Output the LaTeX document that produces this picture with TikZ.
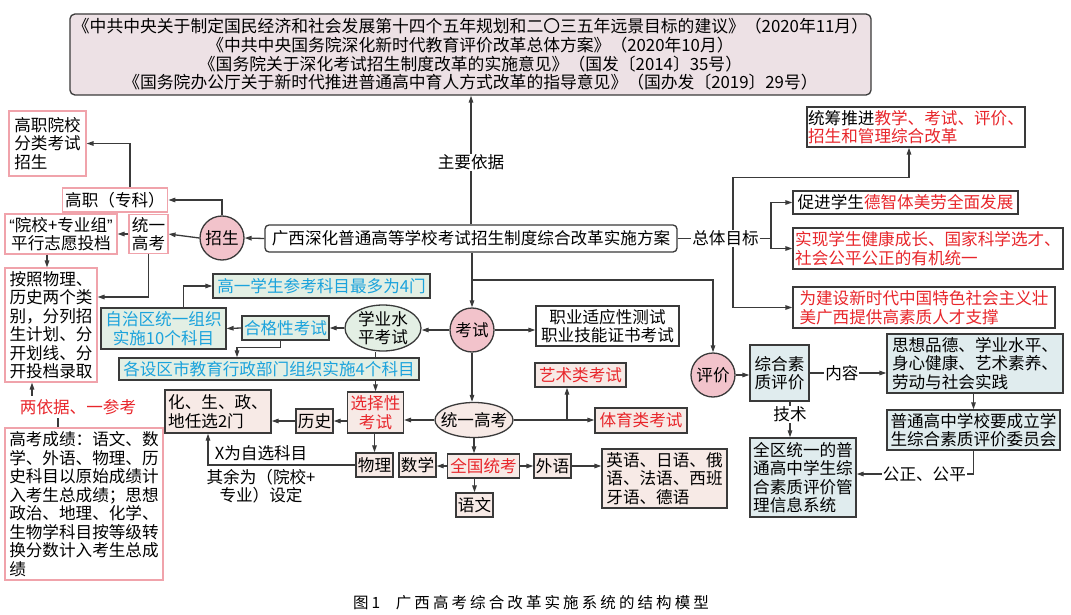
\documentclass[tikz,border=0pt]{standalone}
\usepackage{fontspec}
\setmainfont{Noto Sans CJK SC}
\newfontfamily\capfont[LetterSpace=20]{Noto Sans CJK SC}
\newfontfamily\latf{Liberation Sans}
\usetikzlibrary{arrows.meta,calc,shapes.geometric}
\definecolor{lineC}{HTML}{3A3A3A}
\definecolor{redT}{HTML}{E8262B}
\definecolor{cyanT}{HTML}{1BA3DC}
\definecolor{pinkB}{HTML}{F0A3AB}
\definecolor{pinkC}{HTML}{F2C3CB}
\definecolor{pinkF}{HTML}{F7EAE6}
\definecolor{greenF}{HTML}{E3EFE4}
\definecolor{blueF}{HTML}{E0ECEE}
\definecolor{topF}{HTML}{EDE1E5}
\newcommand\fz{\fontsize{16.6}{18.5}\selectfont}
\begin{document}
\begin{tikzpicture}[x=1pt,y=-1pt,
 every node/.style={font=\fz, text=black},
 dbox/.style={draw=lineC, line width=1.3pt, fill=white, inner sep=3pt, rectangle},
 pbox/.style={draw=pinkB, line width=1.1pt, fill=white, inner sep=3pt, rectangle},
 gbox/.style={dbox, fill=greenF, text=cyanT},
 fbox/.style={dbox, fill=pinkF},
 bbox/.style={dbox, fill=blueF},
 circ/.style={circle, draw=lineC, line width=1.3pt, fill=pinkC, minimum size=44pt, inner sep=0pt},
 ell/.style={ellipse, draw=lineC, line width=1.3pt, inner sep=0pt},
 lbl/.style={fill=white, inner sep=1pt},
 arr/.style={draw=lineC, line width=1.3pt, -{Triangle[length=7pt,width=4.5pt]}},
 ln/.style={draw=lineC, line width=1.3pt},
 sz/.style 2 args={minimum width=#1pt, minimum height=#2pt},
]
\useasboundingbox (0,0) rectangle (1071,615);

% ---------- nodes ----------
\node[dbox, fill=topF, rounded corners=5pt, sz={795}{81}, align=center, font=\fontsize{16.8}{18.7}\selectfont] (top) at (470.5,54.5) {《中共中央关于制定国民经济和社会发展第十四个五年规划和二〇三五年远景目标的建议》（2020年11月）\\《中共中央国务院深化新时代教育评价改革总体方案》（2020年10月）\\《国务院关于深化考试招生制度改革的实施意见》（国发〔2014〕35号）\\《国务院办公厅关于新时代推进普通高中育人方式改革的指导意见》（国办发〔2019〕29号）};

\node[dbox, rounded corners=4pt, sz={412}{27}] (main) at (471,238.5) {广西深化普通高等学校考试招生制度综合改革实施方案};
\node[circ] (zs) at (222,238) {招生};
\node[pbox, sz={104}{24}] (gz) at (115,200) {高职（专科）};
\node[pbox, sz={77}{65}, align=left] (gzyx) at (47.5,143.5) {高职院校\\分类考试\\招生};
\node[pbox, sz={112}{38}, align=center] (yx) at (61,234) {{\latf “}院校+专业组{\latf ”}\\平行志愿投档};
\node[pbox, sz={39}{38}, align=center, inner xsep=2pt] (tk) at (148.5,234) {统一\\高考};
\node[pbox, sz={92}{114}, align=left] (az) at (51,325) {按照物理、\\历史两个类\\别，分列招\\生计划、分\\开划线、分\\开投档录取};
\node[text=redT] (lyj) at (78,407) {两依据、一参考};
\node[pbox, sz={158}{152}, align=left] (gkcj) at (84,504) {高考成绩：语文、数\\学、外语、物理、历\\史科目以原始成绩计\\入考生总成绩；思想\\政治、地理、化学、\\生物学科目按等级转\\换分数计入考生总成\\绩};

\node[gbox, sz={217}{24}] (gy) at (321.5,286) {高一学生参考科目最多为4门};
\node[gbox, sz={125}{41}, align=center] (zz) at (163.5,328.5) {自治区统一组织\\实施10个科目};
\node[gbox, sz={87}{24}, inner xsep=2pt] (hg) at (285.5,328) {合格性考试};
\node[ell, fill=greenF, minimum width=76pt, minimum height=46pt, inner ysep=-1.5pt, inner xsep=-1pt, align=center] (xy) at (383,328) {学业水\\平考试};
\node[gbox, sz={300}{22}] (gs) at (269,369) {各设区市教育行政部门组织实施4个科目};

\node[circ] (ks) at (472,330) {考试};
\node[dbox, sz={143}{40}, align=center] (zy) at (607.5,326) {职业适应性测试\\职业技能证书考试};
\node[circ] (pj) at (713,375) {评价};
\node[ell, fill=pinkF, minimum width=78pt, minimum height=35pt, inner xsep=-10pt, inner ysep=0pt] (tg) at (474,420) {统一高考};

\node[fbox, sz={91}{24}, text=redT] (ys) at (580.5,375) {艺术类考试};
\node[fbox, sz={92}{25}, text=redT] (ty) at (641,420.5) {体育类考试};
\node[fbox, sz={55}{41}, text=redT, align=center] (xz) at (375.5,412.5) {选择性\\考试};
\node[fbox, sz={37}{24}, inner xsep=1.5pt] (ls) at (314.5,421) {历史};
\node[fbox, sz={106}{43}, align=left] (hs) at (218,411.5) {化、生、政、\\地任选2门};
\node[fbox, sz={37}{24}, inner xsep=1.5pt] (wl) at (374.5,465) {物理};
\node[fbox, sz={37}{24}, inner xsep=1.5pt] (sx) at (417.5,465) {数学};
\node[fbox, sz={69}{24}, text=redT] (qg) at (483.5,466) {全国统考};
\node[fbox, sz={37}{24}, inner xsep=1.5pt] (wy) at (552.5,466) {外语};
\node[fbox, sz={125}{59}, align=left] (yy) at (664.5,478.5) {英语、日语、俄\\语、法语、西班\\牙语、德语};
\node[fbox, sz={37}{24}, inner xsep=1.5pt] (yw) at (474.5,505) {语文};

\node[dbox, sz={216}{40}, align=left, inner xsep=1pt] (tc) at (916,127) {统筹推进\textcolor{redT}{教学、考试、评价、}\\\textcolor{redT}{招生和管理综合改革}};
\node[lbl] (zt) at (725.5,238.5) {总体目标};
\node[dbox, sz={225}{23}] (cj) at (905.5,202.5) {促进学生\textcolor{redT}{德智体美劳全面发展}};
\node[dbox, sz={270}{41}, align=left, text=redT, inner xsep=2pt] (sxz) at (928,248.5) {实现学生健康成长、国家科学选才、\\社会公平公正的有机统一};
\node[dbox, sz={262}{41}, align=left, text=redT] (wj) at (924,307.5) {为建设新时代中国特色社会主义壮\\美广西提供高素质人才支撑};
\node[bbox, sz={59}{56}, align=center] (zh) at (779.5,373) {综合素\\质评价};
\node[bbox, sz={176}{59}, align=left] (sp) at (975,363.5) {思想品德、学业水平、\\身心健康、艺术素养、\\劳动与社会实践};
\node[bbox, sz={173}{40}, align=left, inner xsep=2pt] (pt) at (973.5,430) {普通高中学校要成立学\\生综合素质评价委员会};
\node[bbox, sz={106}{79}, align=left, inner xsep=2pt] (qq) at (803,477.5) {全区统一的普\\通高中学生综\\合素质评价管\\理信息系统};

\node[font={\capfont\fontsize{15.5}{18}\selectfont}] (cap) at (531,603) {图1\quad 广西高考综合改革实施系统的结构模型};

% ---------- connectors ----------
\draw[arr] (main.north) -- node[lbl, pos=0.48]{主要依据} (main.north |- top.south);
\draw[arr] (main.west) -- (zs.east);
\draw[arr] (zs.north) |- (gz.east);
\draw[arr] ([xshift=15pt]gz.north) |- (gzyx.east);
\draw[arr] (zs.west) -- (tk.east);
\draw[arr] (tk.west) -- (yx.east);
\draw[arr] ([xshift=-4pt]az.north |- yx.south) -- ([xshift=-4pt]az.north);
\draw[arr] (tk.south) |- ([yshift=28pt]az.east);
\coordinate (c1) at ([xshift=-19pt]az.south);
\draw[arr] (lyj.north -| c1) -- (c1);
\coordinate (c2) at ([xshift=-26pt]gkcj.north);
\draw[ln] (lyj.south -| c2) -- (c2);

\draw[arr] ([xshift=20pt]zz.north) |- (gy.west);
\draw[arr] (hg.west) -- (zz.east);
\draw[arr] (xy.west) -- (xy.west -| hg.east);
\draw[arr] (ks.west) -- (ks.west -| xy.east);
\draw[arr] ([xshift=-5pt]hg.south) -- ++(0,7) -| ([xshift=-32pt]gs.north);
\draw[ln] (xy.south -| xz.north) -- (gs.north -| xz.north);
\draw[arr] (gs.south -| xz.north) -- (xz.north);

\draw[arr] (main.south -| ks.north) -- (ks.north);
\draw[arr] ($(main.south -| ks.north)!0.5!(ks.north)$) -| (pj.north);
\draw[arr] (ks.east) -- (ks.east -| zy.west);
\draw[arr] (ks.south) -- (ks.south |- tg.north);
\draw[arr] (tg.west) -- (tg.west -| xz.east);
\draw[arr] (tg.east) -- (tg.east -| ty.west);
\coordinate (c3) at ([xshift=-13.5pt]ys.south);
\draw[arr] (c3 |- tg.east) -- (c3);
\draw[arr] (ls.east -| xz.west) -- (ls.east);
\draw[arr] (ls.west) -- (ls.west -| hs.east);
\draw[arr] (xz.south -| wl.north) -- (wl.north);
\draw[arr] (wl.west) -| node[pos=0.32, above]{X为自选科目} node[pos=0.32, below, align=center]{其余为（院校+\\专业）设定} ([xshift=-10pt]hs.south);
\draw[arr] (qg.west) -- (qg.west -| sx.east);
\draw[arr] (qg.east) -- (wy.west);
\draw[arr] (wy.east) -- (wy.east -| yy.west);
\draw[arr] (yw.north |- qg.south) -- (yw.north);
\draw[arr] (tg.south) -- (tg.south |- qg.north);

\draw[ln] (main.east) -- (zt.west);
\draw[arr] (zt.east) -- ++(11,0) |- (cj.west);
\draw[arr] (zt.east) -- ++(11,0) |- (sxz.west);
\draw[arr] ([xshift=7.5pt]zt.north) -- ++(0,-52) -| ([xshift=-7pt]tc.south);
\draw[arr] ([xshift=7.5pt]zt.south) |- (wj.west);

\draw[arr] (pj.east) -- (pj.east -| zh.west);
\draw[arr] (zh.east) -- node[lbl, pos=0.42]{内容} (zh.east -| sp.west);
\draw[arr] (sp.south -| pt.north) -- (pt.north);
\draw[arr] (pt.south) |- node[lbl, pos=0.71]{公正、公平} ([yshift=3.5pt]qq.east);
\coordinate (c4) at ([xshift=-13pt]qq.north);
\draw[arr] (zh.south -| c4) -- node[lbl, pos=0.35]{技术} (c4);
\end{tikzpicture}
\end{document}
